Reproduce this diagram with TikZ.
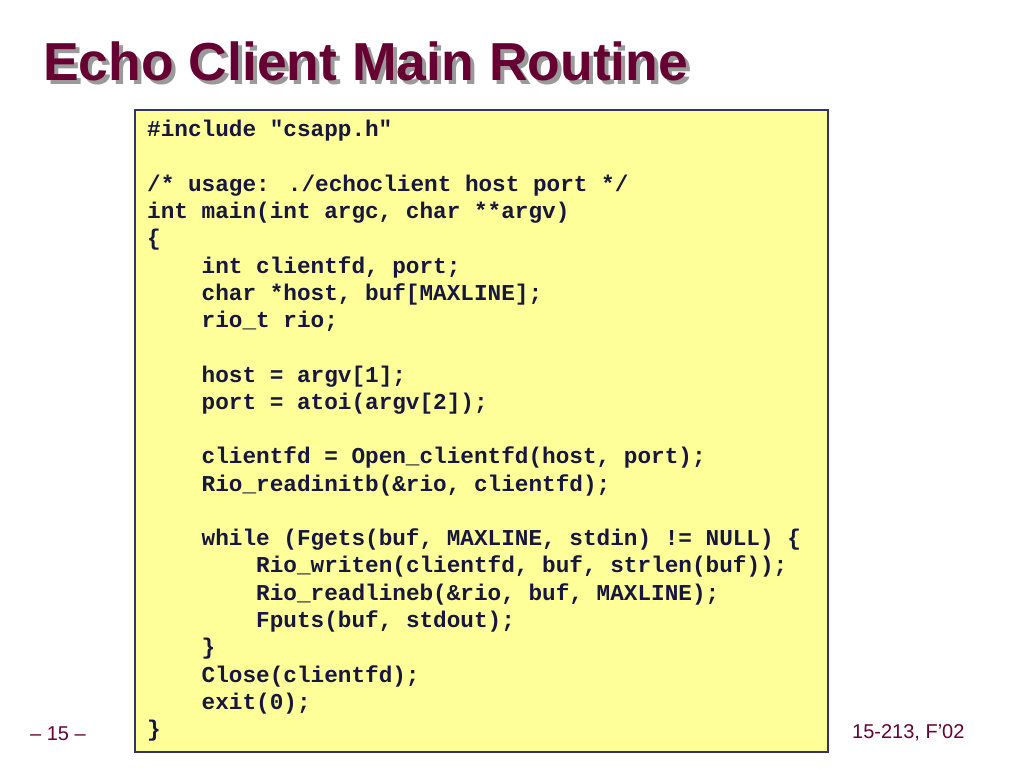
\documentclass[tikz,border=0pt]{standalone}
\usepackage{fontspec}
\setmainfont{Liberation Sans}
\newfontfamily\codefont{Liberation Mono}
\usepackage{xcolor}
\definecolor{titlered}{HTML}{660033}
\definecolor{shadowgray}{HTML}{9A9A9A}
\definecolor{boxfill}{HTML}{FFFF99}
\definecolor{boxedge}{HTML}{333366}
\definecolor{codeink}{HTML}{16163E}
\newcommand{\ind}{\phantom{xxxx}}

\tikzset{
  titletext/.style = {anchor=base west, inner sep=0pt,
    font=\fontsize{53.5}{60}\selectfont\bfseries},
  footertext/.style = {anchor=base west, inner sep=0pt, text=titlered,
    font=\fontsize{20}{24}\selectfont},
  codetext/.style = {anchor=north west, inner sep=0pt, align=left, text=codeink,
    font=\codefont\bfseries\fontsize{22.7}{27.27}\selectfont}
}

\begin{document}
\begin{tikzpicture}[x=1pt, y=-1pt]
\useasboundingbox (0,0) rectangle (1024,768);
\fill[white] (0,0) rectangle (1024,768);

% title with its shadow
\node[titletext, text=shadowgray] (titleshadow) at (47,84.5) {Echo Client Main Routine};
\node[titletext, text=titlered]   (title)       at (43,80.5) {Echo Client Main Routine};

% code box
\draw[boxedge, fill=boxfill, line width=1.6pt] (135,110) rectangle (828,752);
\node[codetext] (code) at (147,120) {%
\#include "csapp.h"\\
~\\
/* usage: ./echoclient host port */\\
int main(int argc, char **argv)\\
\{\\
\ind int clientfd, port;\\
\ind char *host, buf[MAXLINE];\\
\ind rio\_t rio;\\
~\\
\ind host = argv[1];\\
\ind port = atoi(argv[2]);\\
~\\
\ind clientfd = Open\_clientfd(host, port);\\
\ind Rio\_readinitb(\&rio, clientfd);\\
~\\
\ind while (Fgets(buf, MAXLINE, stdin) != NULL) \{\\
\ind\ind Rio\_writen(clientfd, buf, strlen(buf));\\
\ind\ind Rio\_readlineb(\&rio, buf, MAXLINE);\\
\ind\ind Fputs(buf, stdout);\\
\ind \}\\
\ind Close(clientfd);\\
\ind exit(0);\\
\}};

% footer
\node[footertext] (pagenum) at (30,740) {\textendash{} 15 \textendash};
\node[footertext] (course)  at (852,738) {15-213, F’02};
\end{tikzpicture}
\end{document}
